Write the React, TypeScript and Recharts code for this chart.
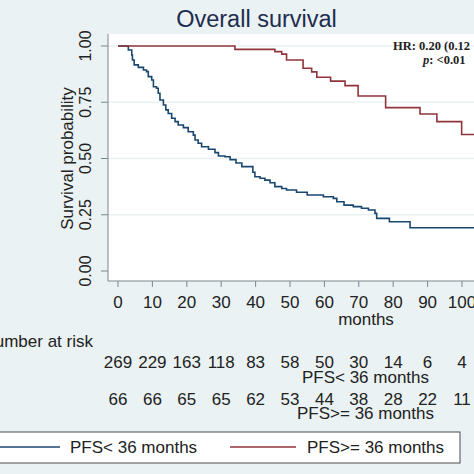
import { LineChart, Line, XAxis, YAxis, CartesianGrid } from "recharts";

// Kaplan-Meier, PFS < 36 months
const lowTimes = [0, 3.0, 4.0, 4.2, 4.7, 5.9, 7.4, 8.3, 8.8, 9.8, 10.3, 11.2, 11.7, 12.2, 13.2, 13.9, 14.6, 15.6, 16.6, 17.5, 19.0, 20.4, 21.9, 22.4, 23.3, 24.3, 26.3, 28.2, 29.2, 31.1, 32.6, 34.3, 36.0, 39.2, 39.8, 41.3, 42.7, 44.2, 45.6, 47.6, 49.0, 51.9, 55.0, 59.7, 62.6, 63.6, 65.7, 68.4, 70.8, 72.8, 74.7, 75.2, 78.9, 84.9, 106];
const lowSurv = [1, 0.982, 0.96, 0.938, 0.916, 0.905, 0.893, 0.886, 0.864, 0.849, 0.819, 0.812, 0.79, 0.76, 0.738, 0.716, 0.7, 0.679, 0.664, 0.649, 0.637, 0.619, 0.604, 0.582, 0.568, 0.552, 0.541, 0.526, 0.511, 0.508, 0.495, 0.48, 0.464, 0.439, 0.419, 0.412, 0.404, 0.392, 0.375, 0.367, 0.36, 0.35, 0.338, 0.33, 0.323, 0.308, 0.293, 0.286, 0.279, 0.271, 0.256, 0.234, 0.219, 0.192, 0.192];

// PFS >= 36 months
const highTimes = [0, 34.0, 45.6, 47.6, 49.0, 53.8, 56.3, 57.8, 61.8, 66.0, 69.8, 77.8, 87.8, 92.7, 99.9, 106];
const highSurv = [1, 0.985, 0.975, 0.964, 0.938, 0.901, 0.885, 0.861, 0.844, 0.824, 0.778, 0.726, 0.698, 0.664, 0.607, 0.607];

const xTicks = [0, 10, 20, 30, 40, 50, 60, 70, 80, 90, 100];
const yTicks = [0, 0.25, 0.5, 0.75, 1];
const riskLow = [269, 229, 163, 118, 83, 58, 50, 30, 14, 6, 4];
const riskHigh = [66, 66, 65, 65, 62, 53, 44, 38, 28, 22, 11];

const BLUE = "#1a476f";
const RED = "#90353b";
const BG = "#eaf2f3";
const FONT = "'Liberation Sans', Arial, sans-serif";

const lowData = lowTimes.map((t, i) => ({ t, s: lowSurv[i] }));
const highData = highTimes.map((t, i) => ({ t, s: highSurv[i] }));

function XTick(props: any) {
  const { x, y, payload } = props;
  const i = xTicks.indexOf(payload.value);
  return (
    <g fontFamily={FONT} fontSize={17} fill="#222" textAnchor="middle">
      <text x={x} y={y + 19}>{payload.value}</text>
      <text x={x} y={y + 79}>{riskLow[i]}</text>
      <text x={x} y={y + 116}>{riskHigh[i]}</text>
    </g>
  );
}

function YTick(props: any) {
  const { x, y, payload } = props;
  const bx = x - 10;
  return (
    <text
      x={bx}
      y={y}
      transform={`rotate(-90 ${bx} ${y})`}
      textAnchor="middle"
      fontFamily={FONT}
      fontSize={16}
      fill="#222"
    >
      {payload.value.toFixed(2)}
    </text>
  );
}

export default function App() {
  return (
    <div
      style={{
        position: "absolute",
        left: 0,
        top: 0,
        width: 474,
        height: 474,
        overflow: "hidden",
        background: BG,
      }}
    >
      <LineChart width={474} height={474} margin={{ top: 34, right: 0, bottom: 0, left: 0 }}>
        <CartesianGrid
          vertical={false}
          fill="#ffffff"
          stroke={BG}
          strokeWidth={1.5}
          horizontalValues={[0.25, 0.5, 0.75, 1]}
        />
        <XAxis
          type="number"
          dataKey="t"
          domain={[-2.907, 103.49]}
          allowDataOverflow
          ticks={xTicks}
          height={193}
          tickSize={6}
          tickMargin={2}
          stroke="#7a8891"
          tick={<XTick />}
          interval={0}
        />
        <YAxis
          type="number"
          dataKey="s"
          domain={[-0.0444, 1.0533]}
          allowDataOverflow
          ticks={yTicks}
          width={108}
          tickSize={7}
          tickMargin={0}
          stroke="#7a8891"
          tick={<YTick />}
          interval={0}
        />
        <Line
          data={lowData}
          dataKey="s"
          type="stepAfter"
          stroke={BLUE}
          strokeWidth={1.6}
          dot={false}
          isAnimationActive={false}
        />
        <Line
          data={highData}
          dataKey="s"
          type="stepAfter"
          stroke={RED}
          strokeWidth={1.6}
          dot={false}
          isAnimationActive={false}
        />
      </LineChart>
      <svg
        width={474}
        height={474}
        style={{ position: "absolute", left: 0, top: 0, pointerEvents: "none" }}
        fontFamily={FONT}
      >
        <text x={256.5} y={27} textAnchor="middle" fontSize={23.5} fill="#1e2d4f">
          Overall survival
        </text>
        <text
          x={73}
          y={158.5}
          transform="rotate(-90 73 158.5)"
          textAnchor="middle"
          fontSize={17}
          fill="#222"
        >
          Survival probability
        </text>
        <g fontFamily="'Liberation Serif', 'Times New Roman', serif" fontWeight="bold" fontSize={12.5} fill="#222">
          <text x={393} y={50}>HR: 0.20 (0.12</text>
          <text x={423} y={64}>
            <tspan fontStyle="italic">p</tspan>: &lt;0.01
          </text>
        </g>
        <g fontSize={17} fill="#222">
          <text x={366} y={325} textAnchor="middle">months</text>
          <text x={93} y={347} textAnchor="end">Number at risk</text>
          <text x={365.5} y={383} textAnchor="middle">PFS&lt; 36 months</text>
          <text x={365.5} y={419} textAnchor="middle">PFS&gt;= 36 months</text>
        </g>
        <rect x={-2} y={432} width={462} height={31} fill="#ffffff" stroke="#4a4a4a" strokeWidth={1} />
        <line x1={0} y1={447} x2={60} y2={447} stroke={BLUE} strokeWidth={1.3} />
        <text x={70} y={453} fontSize={17} fill="#222">PFS&lt; 36 months</text>
        <line x1={230} y1={447} x2={296} y2={447} stroke={RED} strokeWidth={1.3} />
        <text x={307} y={453} fontSize={17} fill="#222">PFS&gt;= 36 months</text>
      </svg>
    </div>
  );
}
